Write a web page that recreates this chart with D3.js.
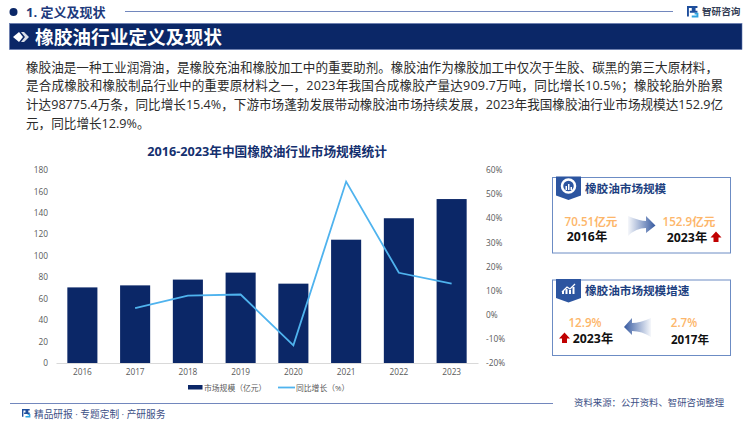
<!DOCTYPE html>
<html lang="zh-CN">
<head>
    <meta charset="utf-8">
    <title>橡胶油行业定义及现状</title>
    <script src="https://cdn.jsdelivr.net/npm/d3@7"></script>
    <style>
        html, body { margin: 0; padding: 0; background: #fff; }
        svg { display: block; }
        text { font-family: "Open Sans", "Noto Sans CJK SC", sans-serif; }
    </style>
</head>
<body>
    <svg id="chart" width="750" height="421"></svg>

    <script>
        const years = ["2016", "2017", "2018", "2019", "2020", "2021", "2022", "2023"];
        const marketSize = [70.51, 72.4, 77.8, 84.3, 74, 115, 135, 152.9];
        const growth = [null, 2.7, 7.9, 8.4, -12.7, 55.2, 17.4, 12.9];
        const leftTicks = [0, 20, 40, 60, 80, 100, 120, 140, 160, 180];
        const rightTicks = [-20, -10, 0, 10, 20, 30, 40, 50, 60];
        const seriesNames = ["市场规模（亿元）", "同比增长（%）"];
        const paragraph = [
            "橡胶油是一种工业润滑油，是橡胶充油和橡胶加工中的重要助剂。橡胶油作为橡胶加工中仅次于生胶、碳黑的第三大原材料，",
            "是合成橡胶和橡胶制品行业中的重要原材料之一，2023年我国合成橡胶产量达909.7万吨，同比增长10.5%；橡胶轮胎外胎累",
            "计达98775.4万条，同比增长15.4%，下游市场蓬勃发展带动橡胶油市场持续发展，2023年我国橡胶油行业市场规模达152.9亿",
            "元，同比增长12.9%。"
        ];

        const navy = "#0b2767";
        const lineBlue = "#4fb3ee";
        const panelBlue = "#6c8cc4";
        const orange = "#fdb66a";
        const red = "#c00000";

        const svg = d3.select("#chart");

        function label(x, y, str, size, fill, weight, anchor) {
            return svg.append("text")
                .attr("x", x).attr("y", y)
                .attr("font-size", size)
                .attr("font-weight", weight || 400)
                .attr("text-anchor", anchor || "start")
                .attr("dominant-baseline", "central")
                .attr("fill", fill)
                .text(str);
        }

        // page header
        svg.append("circle").attr("cx", 13.5).attr("cy", 12).attr("r", 4).attr("fill", navy);
        label(26, 12, "1. 定义及现状", 13, "#1d3a7c", 700);
        svg.append("line").attr("x1", 125).attr("x2", 673).attr("y1", 11.5).attr("y2", 11.5)
            .attr("stroke", "#7287bd").attr("stroke-width", 1);

        function logo(x, y, s) {
            svg.append("path")
                .attr("transform", `translate(${x},${y}) scale(${s})`)
                .attr("fill", "none").attr("stroke", "#1e4e9c").attr("stroke-width", 2)
                .attr("d", "M1 11V1H6V6H3M11 1H8V6H11");
            svg.append("path")
                .attr("transform", `translate(${x},${y}) scale(${s})`)
                .attr("fill", "none").attr("stroke", "#2ea3e0").attr("stroke-width", 2)
                .attr("d", "M5 11H11V8H8");
        }
        logo(687, 6, 0.95);
        label(702, 11.5, "智研咨询", 9.6, "#333d55", 700);

        // title banner
        svg.append("rect").attr("x", 9.5).attr("y", 23.5).attr("width", 732.5).attr("height", 26)
            .attr("fill", navy).attr("stroke", "#5f76ad").attr("stroke-width", 0.6);
        svg.append("path").attr("fill", "#fff").attr("d", "M13 37L19 32L23 37L19 42Z");
        svg.append("path").attr("fill", "#fff").attr("opacity", 0.85).attr("d", "M21 32L24 32L29 37L24 42L21 42L25 37Z");
        label(35, 36.5, "橡胶油行业定义及现状", 18.7, "#fff", 700);

        // intro paragraph
        const lineEnds = [718, 723, 723];
        paragraph.forEach((str, i) => {
            const t = label(26, 67 + i * 18.8, str, 12.6, "#2b2b2b");
            if (i < lineEnds.length) {
                t.attr("textLength", lineEnds[i] - 26).attr("lengthAdjust", "spacing");
            }
        });

        // chart title
        label(267, 150.5, "2016-2023年中国橡胶油行业市场规模统计", 12.7, "#14306f", 700, "middle");

        // scales
        const x = d3.scaleBand().domain(years).range([56, 478]).paddingInner(0.43).paddingOuter(0.215);
        const yLeft = d3.scaleLinear().domain([0, 180]).range([363, 170]);
        const yRight = d3.scaleLinear().domain([-20, 60]).range([363, 170]);

        svg.append("g").selectAll("rect")
            .data(years)
            .join("rect")
            .attr("x", d => x(d))
            .attr("y", (d, i) => yLeft(marketSize[i]))
            .attr("width", x.bandwidth())
            .attr("height", (d, i) => yLeft(0) - yLeft(marketSize[i]))
            .attr("fill", navy);

        const line = d3.line()
            .defined(d => d.v !== null)
            .x(d => x(d.year) + x.bandwidth() / 2)
            .y(d => yRight(d.v));

        svg.append("path")
            .datum(years.map((year, i) => ({ year, v: growth[i] })))
            .attr("fill", "none")
            .attr("stroke", lineBlue)
            .attr("stroke-width", 1.8)
            .attr("d", line);

        // axes
        const xAxis = svg.append("g").attr("transform", "translate(0,363)")
            .call(d3.axisBottom(x).tickSize(0).tickPadding(6));
        xAxis.select(".domain").attr("stroke", "#d9d9d9");

        const leftAxis = svg.append("g").attr("transform", "translate(56,0)")
            .call(d3.axisLeft(yLeft).tickValues(leftTicks).tickSize(0).tickPadding(8));
        leftAxis.select(".domain").remove();

        const rightAxis = svg.append("g").attr("transform", "translate(478,0)")
            .call(d3.axisRight(yRight).tickValues(rightTicks).tickSize(0).tickPadding(8).tickFormat(d => d + "%"));
        rightAxis.select(".domain").remove();

        svg.selectAll(".tick text")
            .attr("font-size", 8.3)
            .attr("font-family", "'Open Sans', sans-serif")
            .attr("fill", "#595959");

        // legend
        svg.append("rect").attr("x", 188).attr("y", 385).attr("width", 14.5).attr("height", 4.5).attr("fill", navy);
        label(204, 387.5, seriesNames[0], 7.8, "#595959");
        svg.append("line").attr("x1", 278).attr("x2", 295).attr("y1", 387.5).attr("y2", 387.5)
            .attr("stroke", lineBlue).attr("stroke-width", 1.8);
        label(296, 387.5, seriesNames[1], 7.8, "#595959");

        // gradients for the side panel arrows
        const defs = svg.append("defs");
        [["fadeRight", 0, 1], ["fadeLeft", 1, 0]].forEach(([id, a, b]) => {
            const g = defs.append("linearGradient").attr("id", id)
                .attr("x1", a).attr("x2", b).attr("y1", 0).attr("y2", 0);
            g.append("stop").attr("offset", "0%").attr("stop-color", "#3f62a8").attr("stop-opacity", 0.05);
            g.append("stop").attr("offset", "100%").attr("stop-color", "#34589f");
        });

        function panel(top, height, title) {
            svg.append("rect").attr("x", 552.5).attr("y", top).attr("width", 178).attr("height", height)
                .attr("fill", "#fff").attr("stroke", panelBlue).attr("stroke-width", 1);
            svg.append("path")
                .attr("transform", `translate(556,${top - 1})`)
                .attr("fill", "#2c55a0")
                .attr("d", "M0 0H25V19L12.5 23.5L0 19Z");
            label(585, top + 10.5, title, 11.6, "#1d3f80", 700);
        }

        function redArrow(cx, cy) {
            svg.append("path")
                .attr("transform", `translate(${cx},${cy})`)
                .attr("fill", red)
                .attr("d", "M0 -5.5L5.5 0.5H2.5V5H-2.5V0.5H-5.5Z");
        }

        // first panel
        panel(177.5, 75.5, "橡胶油市场规模");
        svg.append("circle").attr("cx", 568.5).attr("cy", 186).attr("r", 6.5)
            .attr("fill", "none").attr("stroke", "#fff").attr("stroke-width", 2.5);
        svg.append("path").attr("fill", "#fff").attr("d", "M565.5 190V186H567V190ZM568 190V184H569.5V190ZM570.5 190V187H572V190Z");
        label(591, 221, "70.51亿元", 11.6, orange, 600, "middle");
        label(587, 236.5, "2016年", 12.3, "#111", 700, "middle");
        svg.append("path").attr("fill", "url(#fadeRight)")
            .attr("d", "M628 216Q640 221 646 221V216L655.5 225.5L646 233V228Q636 228 628 236Z");
        label(689, 221, "152.9亿元", 11.6, orange, 600, "middle");
        label(687, 237, "2023年", 12.3, "#111", 700, "middle");
        redArrow(716, 237);

        // second panel
        panel(280, 75.5, "橡胶油市场规模增速");
        svg.append("path").attr("fill", "none").attr("stroke", "#fff").attr("stroke-width", 1.3)
            .attr("d", "M562 292L567 287L570 289L575 284");
        svg.append("path").attr("fill", "#fff").attr("d", "M562 294H564V291H562ZM565.5 294H567.5V289H565.5ZM569 294H571V290H569ZM572.5 294H574.5V287H572.5Z");
        label(585, 322, "12.9%", 11.6, orange, 600, "middle");
        label(593, 338.5, "2023年", 12.3, "#111", 700, "middle");
        redArrow(564.5, 338);
        svg.append("path").attr("fill", "url(#fadeLeft)")
            .attr("d", "M651 318Q640 323 632 323V318L624 327L632 335V331Q642 331 651 337Z");
        label(684, 322, "2.7%", 11.6, orange, 600, "middle");
        label(690, 339, "2017年", 11.6, "#111", 700, "middle");

        // footer
        svg.append("line").attr("x1", 10).attr("x2", 553).attr("y1", 403.5).attr("y2", 403.5)
            .attr("stroke", "#7287bd").attr("stroke-width", 1);
        label(574, 402.5, "资料来源：公开资料、智研咨询整理", 9.4, "#3c4f86");
        logo(22, 409, 0.7);
        label(34, 414.5, "精品研报 · 专题定制 · 产研服务", 9.7, "#3c4f86");
    </script>
</body>
</html>
